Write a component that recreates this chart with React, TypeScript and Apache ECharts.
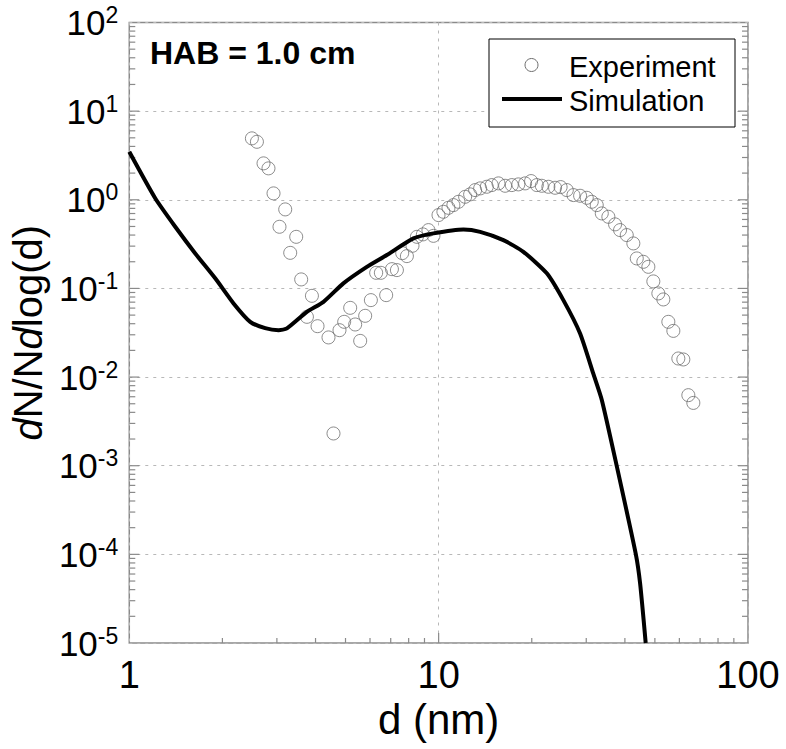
import React, { useEffect, useRef } from "react";
import * as echarts from "echarts";

// Simulation curve (d in nm, dN/Ndlog(d))
const simD = [1, 1.213, 1.408, 1.634, 1.896, 2.173, 2.46, 2.75, 3.037, 3.233, 3.75, 4.245, 4.92, 5.86, 6.8, 8.29, 9.62, 12.03, 13.62, 16.19, 18.79, 22.37, 25.3, 28.66, 31.6, 33.7, 37.7, 43.4, 44.8, 46.7];
const simN = [3.48, 1.04, 0.496, 0.248, 0.13, 0.0677, 0.042, 0.0356, 0.0338, 0.0354, 0.0544, 0.0706, 0.114, 0.175, 0.238, 0.367, 0.418, 0.463, 0.435, 0.351, 0.259, 0.148, 0.0738, 0.031, 0.011, 0.00549, 0.00097, 0.0001, 0.0000468, 0.00001];

// Experimental data
const expD = [2.491, 2.586, 2.716, 2.818, 2.926, 3.059, 3.192, 3.313, 3.464, 3.595, 3.752, 3.894, 4.06, 4.405, 4.572, 4.781, 4.951, 5.177, 5.373, 5.577, 5.788, 6.039, 6.282, 6.505, 6.767, 7.063, 7.33, 7.625, 7.896, 8.232, 8.506, 8.893, 9.268, 9.621, 9.99, 10.36, 10.76, 11.16, 11.59, 12.18, 12.64, 13.12, 13.62, 14.31, 14.85, 15.61, 16.4, 17.24, 18.1, 19.03, 19.9, 20.77, 21.55, 22.63, 23.79, 24.79, 25.96, 27.27, 28.66, 30.12, 31.26, 32.44, 33.68, 35.37, 37.18, 38.58, 40.56, 42.6, 43.7, 45.89, 47.63, 49.43, 51.31, 53.25, 55.27, 57.37, 59.54, 61.8, 64.14, 66.57];
const expN = [4.93, 4.51, 2.575, 2.262, 1.181, 0.496, 0.779, 0.252, 0.382, 0.1264, 0.0478, 0.0825, 0.0375, 0.028, 0.00231, 0.0338, 0.042, 0.0604, 0.0392, 0.0256, 0.0491, 0.0738, 0.15, 0.15, 0.084, 0.165, 0.161, 0.25, 0.2315, 0.303, 0.382, 0.407, 0.455, 0.392, 0.672, 0.732, 0.812, 0.871, 0.949, 1.081, 1.151, 1.287, 1.345, 1.402, 1.465, 1.531, 1.439, 1.465, 1.492, 1.531, 1.626, 1.465, 1.439, 1.402, 1.366, 1.391, 1.287, 1.13, 1.11, 1.053, 0.949, 0.871, 0.702, 0.643, 0.528, 0.455, 0.4, 0.322, 0.218, 0.1996, 0.1753, 0.12, 0.0878, 0.0751, 0.042, 0.0332, 0.0162, 0.0158, 0.00625, 0.00511];

// Axis ranges and tick values
const xRange = [1, 100];
const yRange = [1e-5, 100];
const xTickValues = [2, 3, 4, 5, 6, 7, 8, 9, 10, 20, 30, 40, 50, 60, 70, 80, 90];
const yExponents = [-5, -4, -3, -2, -1, 0, 1];
const mantissas = [1, 2, 3, 4, 5, 6, 7, 8, 9];

const seriesNames = ["Experiment", "Simulation"];
const annotation = "HAB = 1.0 cm";

const FONT = "'Liberation Sans', Arial, Helvetica, sans-serif";

export default function App() {
  const ref = useRef<HTMLDivElement>(null);
  useEffect(() => {
    const chart = echarts.init(ref.current!, null, { renderer: "svg" });

    const isDecade = (v: number) => Math.abs(Math.log10(v) - Math.round(Math.log10(v))) < 1e-9;
    const tickData: number[][] = [];
    xTickValues.forEach((v) => tickData.push([v, yRange[0], 0, isDecade(v) ? 1 : 0]));
    yExponents.forEach((e) => {
      mantissas.forEach((m) => {
        const v = m * Math.pow(10, e);
        if (v > yRange[0] && v < yRange[1]) {
          tickData.push([xRange[0], v, 1, m === 1 ? 1 : 0]);
          tickData.push([xRange[1], v, 2, m === 1 ? 1 : 0]);
        }
      });
    });

    const option: any = {
      animation: false,
      backgroundColor: "#fff",
      grid: {
        left: 129,
        right: 38,
        top: 22.5,
        bottom: 106,
        show: true,
        borderColor: "#8a8a8a",
        borderWidth: 1.5,
        containLabel: false,
      },
      xAxis: {
        type: "log",
        logBase: 10,
        min: xRange[0],
        max: xRange[1],
        splitNumber: 2,
        axisLine: { show: false },
        axisTick: { show: false },
        minorTick: { show: false },
        axisLabel: {
          fontSize: 38,
          color: "#000",
          fontFamily: FONT,
          margin: 13,
          formatter: (v: number) => String(Math.round(v)),
        },
        splitLine: {
          show: true,
          lineStyle: { color: "#b8b8b8", type: [3, 5], width: 1 },
        },
        name: "d (nm)",
        nameLocation: "middle",
        nameGap: 50,
        nameTextStyle: { fontSize: 42, color: "#000", fontFamily: FONT },
      },
      yAxis: {
        type: "log",
        logBase: 10,
        min: yRange[0],
        max: yRange[1],
        splitNumber: 7,
        axisLine: { show: false },
        axisTick: { show: false },
        axisLabel: {
          color: "#000",
          fontFamily: FONT,
          margin: 11,
          formatter: (v: number) => `{b|10}{s|${Math.round(Math.log10(v))}}`,
          rich: {
            b: { fontSize: 35, fontFamily: FONT, color: "#000", lineHeight: 38 },
            s: { fontSize: 23, fontFamily: FONT, color: "#000", verticalAlign: "top", lineHeight: 38 },
          },
        },
        splitLine: {
          show: true,
          lineStyle: { color: "#b8b8b8", type: [3, 5], width: 1 },
        },
        name: "{i|d}N/N{i|d}log(d)",
        nameLocation: "middle",
        nameRotate: 90,
        nameGap: 77,
        nameTextStyle: {
          fontSize: 40,
          color: "#000",
          fontFamily: FONT,
          rich: {
            i: { fontSize: 40, fontStyle: "italic", fontFamily: FONT, color: "#000" },
          },
        },
      },
      series: [
        {
          name: "ticks",
          type: "custom",
          silent: true,
          clip: false,
          z: 1,
          data: tickData,
          encode: { x: 0, y: 1 },
          renderItem: (params: any, api: any) => {
            const p = api.coord([api.value(0), api.value(1)]);
            const side = api.value(2);
            const major = api.value(3) === 1;
            const L = major ? 10 : side === 0 ? 5 : 6;
            let shape;
            if (side === 0) shape = { x1: p[0], y1: p[1], x2: p[0], y2: p[1] - L };
            else if (side === 1) shape = { x1: p[0], y1: p[1], x2: p[0] + L, y2: p[1] };
            else shape = { x1: p[0], y1: p[1], x2: p[0] - L, y2: p[1] };
            return { type: "line", shape, style: { stroke: "#8a8a8a", lineWidth: 1.2 } };
          },
        },
        {
          name: seriesNames[0],
          type: "scatter",
          symbol: "circle",
          symbolSize: 13,
          z: 2,
          itemStyle: { color: "rgba(0,0,0,0)", borderColor: "#6e6e6e", borderWidth: 1 },
          data: expD.map((d, i) => [d, expN[i]]),
        },
        {
          name: seriesNames[1],
          type: "line",
          showSymbol: false,
          symbol: "none",
          smooth: 0.2,
          z: 3,
          lineStyle: { color: "#000", width: 4 },
          data: simD.map((d, i) => [d, simN[i]]),
        },
      ],
      graphic: [
        {
          type: "text",
          left: 150,
          top: 37,
          z: 10,
          style: {
            text: annotation,
            fontSize: 32,
            fontWeight: "bold",
            fontFamily: FONT,
            fill: "#000",
          },
        },
        {
          type: "rect",
          z: 10,
          shape: { x: 489, y: 39, width: 246, height: 88 },
          style: { fill: "#fff", stroke: "#000", lineWidth: 1 },
        },
        {
          type: "circle",
          z: 11,
          shape: { cx: 531.5, cy: 65, r: 6.5 },
          style: { fill: "rgba(0,0,0,0)", stroke: "#6e6e6e", lineWidth: 1 },
        },
        {
          type: "line",
          z: 11,
          shape: { x1: 502, y1: 99, x2: 562, y2: 99 },
          style: { stroke: "#000", lineWidth: 4 },
        },
        {
          type: "text",
          z: 11,
          x: 569,
          y: 67,
          style: {
            text: seriesNames[0],
            fontSize: 29,
            fontFamily: FONT,
            fill: "#000",
            textVerticalAlign: "middle",
            verticalAlign: "middle",
          },
        },
        {
          type: "text",
          z: 11,
          x: 569,
          y: 101,
          style: {
            text: seriesNames[1],
            fontSize: 29,
            fontFamily: FONT,
            fill: "#000",
            textVerticalAlign: "middle",
            verticalAlign: "middle",
          },
        },
      ],
    };
    chart.setOption(option);
    return () => chart.dispose();
  }, []);
  return (
    <div
      ref={ref}
      style={{ position: "fixed", left: 0, top: 0, width: 786, height: 749, background: "#fff" }}
    />
  );
}
